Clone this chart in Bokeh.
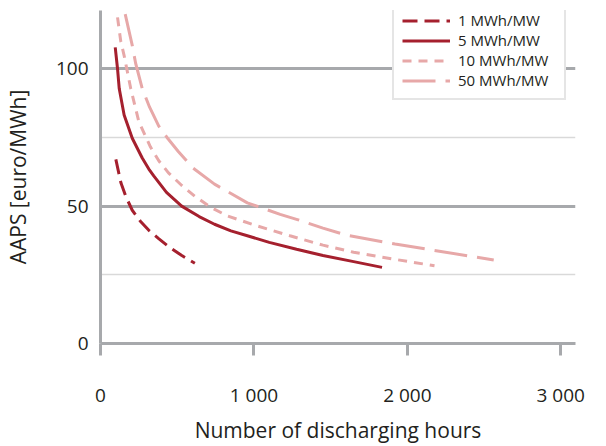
from bokeh.plotting import figure
from bokeh.models import Range1d, FixedTicker, Legend, LegendItem
from bokeh.embed import file_html
from bokeh.resources import INLINE

# ---- data ----
hours_1 = [100, 133, 165, 207, 260, 315, 379, 443, 530, 615]
aaps_1 = [67, 58.5, 53.5, 48.5, 44.5, 41.2, 38.2, 35.3, 32, 29.2]

hours_5 = [96, 111, 122, 154, 207, 272, 315, 347, 430, 529, 643, 743, 850, 957,
           1100, 1278, 1450, 1650, 1835]
aaps_5 = [107.8, 100, 92.8, 83.2, 74.7, 67.5, 63.5, 61, 55, 50, 46.2, 43.4, 41, 39.2,
          36.8, 34.3, 32, 29.8, 27.7]

hours_10 = [111, 132, 154, 197, 250, 326, 380, 443, 530, 615, 720, 829, 1021, 1235,
            1450, 1650, 1900, 2177]
aaps_10 = [118.7, 110, 104.8, 92.8, 80.7, 71.5, 66.5, 62.1, 57.5, 53.6, 49.5, 46.4, 42.8,
           39.2, 35.8, 33.2, 30.8, 28.3]

hours_50 = [161, 207, 229, 272, 320, 379, 440, 507, 600, 743, 957, 1171, 1278, 1450,
            1599, 1920, 2198, 2563]
aaps_50 = [119.9, 108.5, 102, 92.8, 86, 79.2, 74.5, 69.9, 64, 58, 51.2, 47, 45.2, 42,
           39.5, 36.2, 33.7, 30.4]

series_labels = ["1 MWh/MW", "5 MWh/MW", "10 MWh/MW", "50 MWh/MW"]

x_ticks = [0, 1000, 2000, 3000]
x_tick_labels = ["0", "1 000", "2 000", "3 000"]
y_ticks = [0, 50, 100]
y_minor = [25, 75]

x_title = "Number of discharging hours"
y_title = "AAPS [euro/MWh]"

DARK = "#a5202e"
PINK = "#e7a8a8"
AXIS = "#a7a9ac"
TEXT = "#231f20"
FONT = "Open Sans"

p = figure(width=590, height=446, output_backend="svg", toolbar_location=None,
           x_range=Range1d(0, 3096), y_range=Range1d(0, 121.2),
           min_border_left=93, min_border_right=15, min_border_top=10, min_border_bottom=60)
p.outline_line_color = None
p.background_fill_color = "white"

# grids
p.xgrid.grid_line_color = None
p.ygrid.ticker = FixedTicker(ticks=y_ticks, minor_ticks=y_minor)
p.ygrid.grid_line_color = AXIS
p.ygrid.grid_line_width = 3
p.ygrid.minor_grid_line_color = "#d9d9d9"
p.ygrid.minor_grid_line_width = 1.5

# x axis
xa = p.xaxis[0]
xa.ticker = FixedTicker(ticks=x_ticks)
xa.major_label_overrides = {t: l for t, l in zip(x_ticks, x_tick_labels)}
xa.axis_line_color = AXIS
xa.axis_line_width = 3
xa.major_tick_line_color = AXIS
xa.major_tick_line_width = 3
xa.major_tick_out = 12
xa.major_tick_in = 0
xa.minor_tick_line_color = None
xa.major_label_standoff = 26
xa.major_label_text_font = FONT
xa.major_label_text_font_size = "19px"
xa.major_label_text_color = TEXT
xa.major_label_text_line_height = 1.0
xa.axis_label = x_title
xa.axis_label_text_font = FONT
xa.axis_label_text_font_style = "normal"
xa.axis_label_text_font_size = "21px"
xa.axis_label_text_color = TEXT
xa.axis_label_text_line_height = 1.0
xa.axis_label_standoff = 5

# y axis
ya = p.yaxis[0]
ya.ticker = FixedTicker(ticks=y_ticks)
ya.axis_line_color = AXIS
ya.axis_line_width = 3
ya.major_tick_line_color = None
ya.major_tick_out = 0
ya.major_tick_in = 0
ya.minor_tick_line_color = None
ya.major_label_standoff = 12
ya.major_label_text_font = FONT
ya.major_label_text_font_size = "19px"
ya.major_label_text_color = TEXT
ya.axis_label = y_title
ya.axis_label_text_font = FONT
ya.axis_label_text_font_style = "normal"
ya.axis_label_text_font_size = "21px"
ya.axis_label_text_color = TEXT
ya.axis_label_standoff = 21

# curves
r1 = p.line(hours_1, aaps_1, line_color=DARK, line_width=3, line_dash="15 7")
r5 = p.line(hours_5, aaps_5, line_color=DARK, line_width=3)
r10 = p.line(hours_10, aaps_10, line_color=PINK, line_width=3, line_dash="9 7")
r50 = p.line(hours_50, aaps_50, line_color=PINK, line_width=3, line_dash="33 10")

legend = Legend(items=[LegendItem(label=series_labels[0], renderers=[r1]),
                       LegendItem(label=series_labels[1], renderers=[r5]),
                       LegendItem(label=series_labels[2], renderers=[r10]),
                       LegendItem(label=series_labels[3], renderers=[r50])],
                location=(292, 243))
legend.label_text_font = FONT
legend.label_text_font_size = "15px"
legend.label_text_color = TEXT
legend.glyph_width = 48
legend.glyph_height = 19
legend.label_height = 19
legend.label_width = 98
legend.label_standoff = 8
legend.spacing = 0
legend.padding = 8
legend.margin = 0
legend.border_line_color = "#cccccc"
legend.border_line_width = 2
legend.background_fill_color = "white"
legend.background_fill_alpha = 1
p.add_layout(legend)

open("out.html", "w").write(file_html(p, INLINE))
